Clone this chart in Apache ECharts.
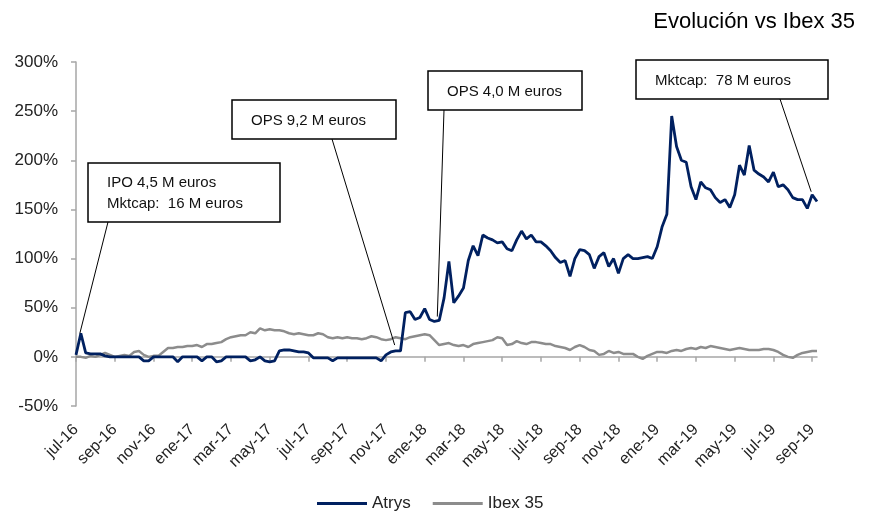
<!DOCTYPE html>
<html>
<head>
    <meta charset="utf-8">
    <title>Evolución vs Ibex 35</title>
    <script src="https://cdn.jsdelivr.net/npm/echarts@6/dist/echarts.min.js"></script>
</head>
<body style="margin:0">
    <div id="main" style="width: 876px;height:519px;"></div>
    <script type="text/javascript">

    // etiquetas del eje x, una cada 2 meses desde jul-16
    var monthLabels = ['jul-16','sep-16','nov-16','ene-17','mar-17','may-17','jul-17','sep-17','nov-17','ene-18',
                       'mar-18','may-18','jul-18','sep-18','nov-18','ene-19','mar-19','may-19','jul-19','sep-19'];
    var yMin = -50, yMax = 300, yStep = 50;

    // un dato cada cuarto de mes desde jul-16 (%)
    var step = 0.25;
    var atrys = [2,24,4,3,3,3,1,0,0,0,0,0,0,0,-4,-4,0,0,0,0,
                 0,-5,0,0,0,0,-4,0,0,-5,-4,0,0,0,0,0,-4,-3,0,-4,
                 -5,-4,6,7,7,6,5,5,4,-1,-1,-1,-1,-4,-1,-1,-1,-1,-1,-1,
                 -1,-1,-1,-4,2,5,6,6,45,46,38,40,49,38,36,37,60,97,55,62,
                 70,98,113,103,124,121,119,116,117,110,108,119,128,120,124,117,117,113,108,101,
                 96,98,82,100,109,108,104,90,102,106,92,100,85,100,104,100,100,101,102,100,
                 112,132,145,245,214,200,198,173,160,178,172,170,162,157,160,152,165,195,185,215,
                 190,186,183,178,188,173,175,170,162,160,160,151,165,158];
    var ibex = [0,0,-1,1,0,2,4,2,0,1,2,1,5,6,2,0,1,1,5,9,
                9,10,10,11,11,12,10,13,13,14,15,18,20,21,22,22,25,24,29,27,
                28,27,27,26,24,23,24,23,22,22,24,23,20,19,20,19,20,19,19,18,
                19,21,20,18,17,18,20,19,18,20,21,22,23,22,17,12,13,14,12,11,
                12,10,13,14,15,16,17,20,19,12,13,16,14,13,15,15,14,13,13,11,
                10,9,7,10,12,10,7,6,2,3,6,4,5,3,3,3,0,-2,1,3,
                5,5,4,6,7,6,8,9,8,10,9,11,10,9,8,7,8,9,8,7,
                7,7,8,8,7,5,2,0,-1,2,4,5,6,6];

    // cajas de texto: caja en px, punto señalado en coordenadas de datos
    var notes = [
        {text: 'IPO 4,5 M euros\nMktcap:  16 M euros', box: [88, 163, 192, 59], from: [108, 222], at: [0.2, 24]},
        {text: 'OPS 9,2 M euros', box: [232, 100, 164, 39], from: [332, 139], at: [16.45, 12]},
        {text: 'OPS 4,0 M euros', box: [428, 71, 154, 39], from: [444, 110], at: [18.65, 41]},
        {text: 'Mktcap:  78 M euros', box: [636, 60, 192, 39], from: [780, 99], at: [37.95, 168]}
    ];

    var font = 'Liberation Sans, Arial, sans-serif';
    var gridTop = 62, gridBottom = 113, chartH = 519;
    var plotH = chartH - gridTop - gridBottom;
    var zeroOffset = -plotH * (0 - yMin) / (yMax - yMin);   // sube la línea del eje x hasta el 0%
    var tickVals = monthLabels.map(function (m, i) { return i * 2; });
    var xMax = (atrys.length - 1) * step;

    function pairs(arr) {
        return arr.map(function (v, i) { return [i * step, v]; });
    }

    var myChart = echarts.init(document.getElementById('main'));

    var option = {
        animation: false,
        title: {
            text: 'Evolución vs Ibex 35',
            right: 16,
            top: 6,
            textStyle: {fontFamily: font, fontSize: 22, fontWeight: 'normal', color: '#000'}
        },
        legend: {
            data: ['Atrys', 'Ibex 35'],
            bottom: 2,
            left: 312,
            icon: 'rect',
            itemWidth: 50,
            itemHeight: 3,
            itemGap: 22,
            textStyle: {fontFamily: font, fontSize: 17, color: '#222'}
        },
        grid: {left: 76, right: 59, top: gridTop, bottom: gridBottom, containLabel: false},
        xAxis: [{
            type: 'value',
            position: 'bottom',
            min: 0,
            max: xMax,
            axisLine: {show: false, onZero: false},
            axisTick: {show: false},
            splitLine: {show: false},
            axisLabel: {
                customValues: tickVals,
                rotate: 45,
                margin: 21,
                fontFamily: font,
                fontSize: 16,
                color: '#222',
                formatter: function (v) { return monthLabels[Math.round(v / 2)] || ''; }
            }
        }, {
            type: 'value',
            position: 'bottom',
            offset: zeroOffset,
            min: 0,
            max: xMax,
            axisLine: {show: true, onZero: false, lineStyle: {color: '#a6a6a6', width: 1.5}},
            axisTick: {show: true, length: 5, customValues: tickVals, lineStyle: {color: '#a6a6a6', width: 1.5}},
            axisLabel: {show: false},
            splitLine: {show: false}
        }],
        yAxis: {
            type: 'value',
            min: yMin,
            max: yMax,
            interval: yStep,
            axisLine: {show: true, lineStyle: {color: '#a6a6a6', width: 1.5}},
            axisTick: {show: true, length: 5, lineStyle: {color: '#a6a6a6', width: 1.5}},
            splitLine: {show: false},
            axisLabel: {fontFamily: font, fontSize: 17, color: '#222', margin: 18, formatter: '{value}%'}
        },
        series: [{
            name: 'Ibex 35',
            type: 'line',
            data: pairs(ibex),
            showSymbol: false,
            color: '#8c8c8c',
            lineStyle: {width: 2.5, color: '#8c8c8c'},
            z: 2
        }, {
            name: 'Atrys',
            type: 'line',
            data: pairs(atrys),
            showSymbol: false,
            color: '#002060',
            lineStyle: {width: 2.8, color: '#002060'},
            z: 3
        }]
    };

    myChart.setOption(option);

    // cajas y líneas de llamada
    var elements = [];
    notes.forEach(function (n) {
        var p = myChart.convertToPixel({xAxisIndex: 0, yAxisIndex: 0}, n.at);
        elements.push({
            type: 'line',
            shape: {x1: n.from[0], y1: n.from[1], x2: p[0], y2: p[1]},
            style: {stroke: '#000', lineWidth: 1},
            z: 10
        });
        elements.push({
            type: 'rect',
            shape: {x: n.box[0], y: n.box[1], width: n.box[2], height: n.box[3]},
            style: {fill: '#fff', stroke: '#000', lineWidth: 1.5},
            z: 11
        });
        elements.push({
            type: 'text',
            x: n.box[0] + 19,
            y: n.box[1] + n.box[3] / 2 + 1,
            style: {
                text: n.text,
                fill: '#111',
                fontFamily: font,
                fontSize: 15,
                lineHeight: 21,
                verticalAlign: 'middle'
            },
            z: 12
        });
    });
    myChart.setOption({graphic: elements});
    </script>
</body>
</html>
